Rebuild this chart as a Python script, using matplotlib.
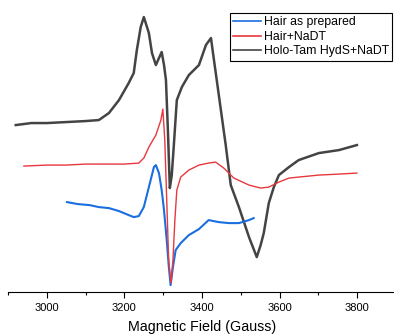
import matplotlib
matplotlib.use('Agg')
import matplotlib.pyplot as plt
from matplotlib.ticker import MultipleLocator

plt.rcParams['font.family'] = ['Liberation Sans', 'DejaVu Sans']

# Field (Gauss) and intensity (a.u., stacked offsets)
field_black = [2920, 2960, 3000, 3050, 3100, 3134, 3160, 3186, 3211, 3224, 3232,
               3242, 3250, 3263, 3271, 3281, 3289, 3296, 3302, 3307, 3312, 3317,
               3322, 3327, 3335, 3348, 3366, 3392, 3410, 3423, 3430, 3445, 3461,
               3474, 3495, 3521, 3541, 3551, 3559, 3572, 3585, 3598, 3624, 3649,
               3701, 3753, 3799]
int_black = [175, 177, 177, 178, 179, 180, 187, 200, 217, 227, 250,
             273, 283, 267, 247, 235, 242, 248, 235, 220, 170, 112,
             125, 153, 200, 213, 225, 235, 255, 262, 242, 200, 155,
             115, 93, 63, 43, 55, 67, 97, 113, 125, 133, 140,
             147, 150, 155]

field_red = [2941, 3000, 3050, 3100, 3150, 3200, 3237, 3250, 3263, 3281, 3294,
             3299, 3304, 3309, 3314, 3320, 3325, 3330, 3335, 3345, 3366, 3392,
             3417, 3435, 3456, 3482, 3521, 3551, 3572, 3598, 3624, 3649, 3701,
             3753, 3799]
int_red = [134, 135, 135, 136, 136, 136, 137, 142, 153, 165, 180,
           191, 160, 100, 40, 17, 40, 80, 110, 123, 130, 135,
           137, 138, 132, 122, 115, 112, 113, 118, 122, 123, 125,
           126, 127]

field_blue = [3052, 3080, 3110, 3134, 3160, 3186, 3211, 3224, 3237, 3250, 3263,
              3276, 3281, 3289, 3296, 3302, 3309, 3314, 3319, 3325, 3332, 3345,
              3366, 3392, 3417, 3443, 3469, 3495, 3521, 3533]
int_blue = [98, 96, 95, 93, 92, 89, 85, 83, 84, 93, 113,
            133, 135, 127, 110, 90, 60, 35, 15, 33, 50, 57,
            65, 71, 80, 78, 77, 77, 80, 82]

fig = plt.figure(figsize=(3.94, 3.35), dpi=100)
ax = fig.add_axes([0.0203, 0.128, 0.985, 0.857])

ax.plot(field_blue, int_blue, color='#1a6ee0', lw=1.5, label='Hair as prepared', zorder=2)
ax.plot(field_red, int_red, color='#e8383d', lw=1.0, label='Hair+NaDT', zorder=3)
ax.plot(field_black, int_black, color='#444444', lw=1.8, label='Holo-Tam HydS+NaDT', zorder=1)

ax.set_xlim(2900, 3900)
ax.set_ylim(8, 295)
for side in ['left', 'right', 'top']:
    ax.spines[side].set_visible(False)
ax.spines['bottom'].set_linewidth(0.8)
ax.set_yticks([])
ax.xaxis.set_major_locator(MultipleLocator(200))
ax.xaxis.set_minor_locator(MultipleLocator(100))
ax.tick_params(axis='x', which='major', direction='out', length=4, width=0.8, labelsize=8, pad=4)
ax.tick_params(axis='x', which='minor', direction='out', length=2.5, width=0.8)
ax.set_xticks([3000, 3200, 3400, 3600, 3800])
ax.set_xlabel('Magnetic Field (Gauss)', fontsize=10.3, labelpad=5)

leg = ax.legend(loc='upper right', bbox_to_anchor=(0.99, 0.972), fontsize=8.8,
                frameon=True, fancybox=False, edgecolor='black', framealpha=1,
                handlelength=2.3, handletextpad=0.25, borderpad=0.25, labelspacing=0.22,
                borderaxespad=0)
leg.get_frame().set_linewidth(0.8)
for h in leg.get_lines():
    h.set_linewidth(1.2)

fig.savefig('out.png', dpi=100)
